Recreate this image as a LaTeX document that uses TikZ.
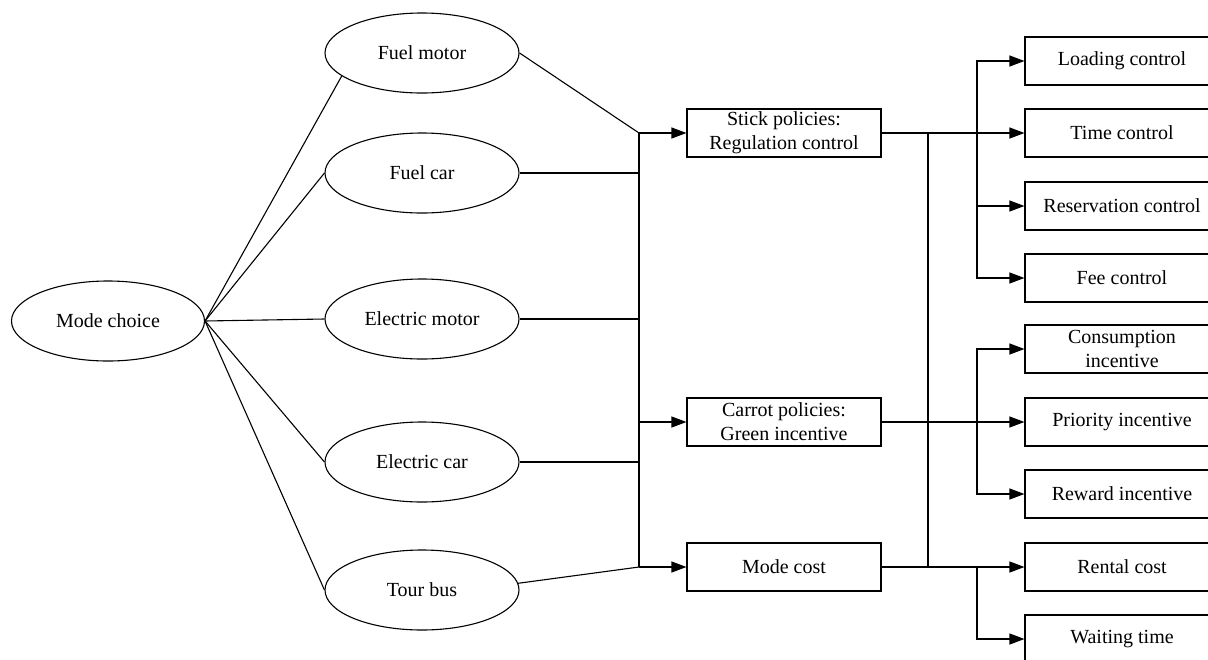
\documentclass[tikz,border=0pt]{standalone}
\usepackage{fontspec}
\setmainfont{Liberation Serif}
\usetikzlibrary{shapes.geometric,arrows.meta}

\begin{document}
\begin{tikzpicture}[x=1pt,y=-1pt,
  every node/.style={font=\fontsize{20}{24}\selectfont},
  oval/.style={ellipse,draw,line width=1.1pt,fill=white,
    minimum width=194pt,minimum height=80pt,inner sep=0pt},
  box/.style={rectangle,draw,line width=1.1pt,fill=white,
    minimum width=194pt,minimum height=48pt,inner sep=0pt,align=center},
  wire/.style={line width=1.1pt},
  arr/.style={wire,-{Triangle[length=15pt,width=11pt]}}]

\useasboundingbox (0,0) rectangle (1208,659);

% transport modes
\node[oval,minimum width=193pt] (mc) at (108,321) {Mode choice};
\node[oval] (fm) at (422,53)  {Fuel motor};
\node[oval] (fc) at (422,173) {Fuel car};
\node[oval] (em) at (422,319) {Electric motor};
\node[oval] (ec) at (422,462) {Electric car};
\node[oval] (tb) at (422,590) {Tour bus};

% policy groups
\node[box] (stick)  at (784,133) {Stick policies:\\Regulation control};
\node[box] (carrot) at (784,422) {Carrot policies:\\Green incentive};
\node[box] (cost)   at (784,567) {Mode cost};

% individual measures
\node[box] (load)  at (1122,61)  {Loading control};
\node[box] (time)  at (1122,133) {Time control};
\node[box] (resv)  at (1122,206) {Reservation control};
\node[box] (fee)   at (1122,278) {Fee control};
\node[box] (cons)  at (1122,349) {Consumption\\incentive};
\node[box] (prio)  at (1122,422) {Priority incentive};
\node[box] (rew)   at (1122,494) {Reward incentive};
\node[box] (rent)  at (1122,567) {Rental cost};
\node[box] (wait)  at (1122,639) {Waiting time};

% junction points
\coordinate (jS) at (639,133);
\coordinate (jFC) at (639,173);
\coordinate (jEM) at (639,319);
\coordinate (jC) at (639,422);
\coordinate (jEC) at (639,462);
\coordinate (jM) at (639,567);
\coordinate (rS) at (928,133);
\coordinate (rM) at (928,567);
\coordinate (bS) at (977,133);
\coordinate (bC) at (977,422);
\coordinate (bM) at (977,567);

% mode choice fan
\draw[wire] (mc.east) -- (fm.196);
\draw[wire] (mc.east) -- (fc.west);
\draw[wire] (mc.east) -- (em.west);
\draw[wire] (mc.east) -- (ec.west);
\draw[wire] (mc.east) -- (tb.west);

% modes into the collecting bus
\draw[wire] (fm.east) -- (jS);
\draw[wire] (fc.east) -- (jFC);
\draw[wire] (em.east) -- (jEM);
\draw[wire] (ec.east) -- (jEC);
\draw[wire] (tb.4) -- (jM);
\draw[wire] (jS) -- (jM);
\draw[arr] (jS) -- (stick);
\draw[arr] (jC) -- (carrot);
\draw[arr] (jM) -- (cost);

% policy groups to measures
\draw[wire] (rS) -- (rM);
\draw[arr] (stick) -- (time);
\draw[arr] (bS) |- (load);
\draw[arr] (bS) |- (resv);
\draw[arr] (bS) |- (fee);
\draw[arr] (carrot) -- (prio);
\draw[arr] (bC) |- (cons);
\draw[arr] (bC) |- (rew);
\draw[arr] (cost) -- (rent);
\draw[arr] (bM) |- (wait);
\end{tikzpicture}
\end{document}
